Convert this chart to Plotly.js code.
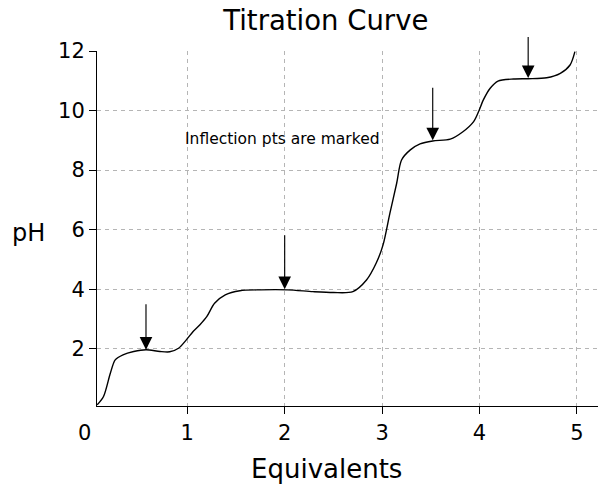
<!DOCTYPE html>
<html>
<head>
<meta charset="utf-8">
<script src="https://cdn.plot.ly/plotly-3.0.1.min.js"></script>
<style>html,body{margin:0;padding:0;background:#fff;}#chart{width:600px;height:487px;}</style>
</head>
<body>
<div id="chart"></div>
<script>
// Titration curve
var equivalents = [0.075, 0.14, 0.21, 0.26, 0.34, 0.45, 0.576, 0.72, 0.82, 0.91, 0.99, 1.06, 1.13, 1.20, 1.28, 1.39, 1.54, 1.75, 2.03, 2.29, 2.50, 2.70, 2.84, 2.94, 3.01, 3.08, 3.15, 3.20, 3.29, 3.39, 3.52, 3.70, 3.83, 3.94, 3.99, 4.04, 4.11, 4.19, 4.35, 4.50, 4.69, 4.83, 4.93, 4.98];
var pH =          [0.12, 0.40, 1.18, 1.63, 1.80, 1.91, 1.97, 1.91, 1.90, 2.02, 2.30, 2.58, 2.81, 3.08, 3.53, 3.81, 3.95, 3.98, 3.98, 3.92, 3.89, 3.92, 4.31, 4.88, 5.49, 6.55, 7.56, 8.34, 8.68, 8.88, 8.98, 9.04, 9.29, 9.63, 9.96, 10.36, 10.75, 10.99, 11.06, 11.07, 11.10, 11.25, 11.53, 11.98];

// Inflection-point arrows: head position and tail pH
var arrowX =     [0.576, 2.0, 3.52, 4.5];
var arrowHeadY = [1.97, 4.0, 9.0, 11.09];
var arrowTailY = [3.55, 5.86, 10.82, 12.52];

var xTicks = [0, 1, 2, 3, 4, 5];
var yTicks = [2, 4, 6, 8, 10, 12];

var FONT = 'DejaVu Sans, Verdana, sans-serif';

var annotations = [];
for (var i = 0; i < arrowX.length; i++) {
  annotations.push({
    x: arrowX[i], y: arrowHeadY[i], xref: 'x', yref: 'y',
    ax: arrowX[i], ay: arrowTailY[i], axref: 'x', ayref: 'y',
    text: '', showarrow: true, arrowhead: 2, arrowsize: 2.2, arrowwidth: 1.15,
    arrowcolor: '#000', standoff: 0, startstandoff: 0
  });
}
annotations.push({
  x: 1.0, y: 9.0, xref: 'x', yref: 'y', text: 'Inflection pts are marked',
  showarrow: false, xanchor: 'left', yanchor: 'middle', xshift: -4, yshift: 1,
  font: {family: FONT, size: 15.5, color: '#000'}
});
// "0" tick label lies just left of the visible axis range: text placed at the
// tail (ax = 0) of an invisible arrow whose head sits on tick 1.
annotations.push({
  x: xTicks[1], y: 0, xref: 'x', yref: 'paper',
  ax: xTicks[0], axref: 'x', ay: 0, ayref: 'pixel',
  text: String(xTicks[0]), showarrow: true, arrowcolor: 'rgba(0,0,0,0)', arrowwidth: 0.1,
  xanchor: 'center', yanchor: 'top', yshift: -13, xshift: -5,
  font: {family: FONT, size: 21, color: '#000'}
});
annotations.push({
  x: 2.43, y: 0, xref: 'x', yref: 'paper', text: 'Equivalents', showarrow: false,
  yanchor: 'top', yshift: -46, font: {family: FONT, size: 26, color: '#000'}
});
annotations.push({
  x: 0, y: 6, xref: 'paper', yref: 'y', text: 'pH', showarrow: false,
  xanchor: 'right', xshift: -50, yshift: -3, font: {family: FONT, size: 24, color: '#000'}
});

var trace = {
  x: equivalents, y: pH, type: 'scatter', mode: 'lines',
  line: {color: '#000', width: 1.4, shape: 'spline', smoothing: 0.8},
  hoverinfo: 'skip', cliponaxis: false
};

var layout = {
  width: 600, height: 487,
  margin: {l: 97, r: 2, t: 51, b: 81, pad: 0},
  paper_bgcolor: '#fff', plot_bgcolor: '#fff',
  showlegend: false,
  title: {text: 'Titration Curve', x: 0.543, xanchor: 'center', xref: 'container',
          y: 0.958, yanchor: 'middle', yref: 'container',
          font: {family: FONT, size: 27.5, color: '#000'}},
  xaxis: {
    range: [0.073, 5.217], tickvals: xTicks.slice(1), ticktext: xTicks.slice(1).map(String),
    showline: true, linecolor: '#000', linewidth: 1,
    ticks: 'outside', ticklen: 7, tickcolor: '#000', tickwidth: 1,
    showgrid: true, gridcolor: '#b5b5b5', gridwidth: 1, griddash: '4px,4px',
    zeroline: false, ticklabelstandoff: 1,
    tickfont: {family: FONT, size: 21, color: '#000'}
  },
  yaxis: {
    range: [0.08, 12.0], tickvals: yTicks,
    showline: true, linecolor: '#000', linewidth: 1,
    ticks: 'outside', ticklen: 7, tickcolor: '#000', tickwidth: 1,
    showgrid: true, gridcolor: '#b5b5b5', gridwidth: 1, griddash: '4px,4px',
    zeroline: false, ticklabelstandoff: 0,
    tickfont: {family: FONT, size: 21, color: '#000'}
  },
  annotations: annotations
};

Plotly.newPlot('chart', [trace], layout, {staticPlot: true, displayModeBar: false});
</script>
</body>
</html>
